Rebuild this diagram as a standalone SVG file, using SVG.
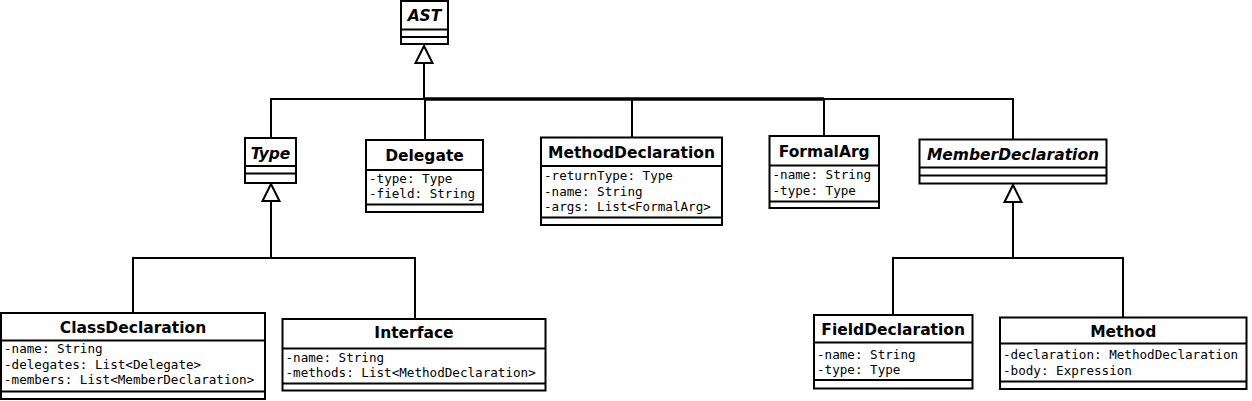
<svg xmlns="http://www.w3.org/2000/svg" width="1252" height="401" viewBox="0 0 1252 401">
<style>
.box{fill:#fff;stroke:#000;stroke-width:2}
.div{stroke:#000;stroke-width:2}
.t{font-family:"DejaVu Sans","Liberation Sans",sans-serif;font-weight:bold;font-size:15.5px;text-anchor:middle;fill:#000}
.ab{font-style:italic}
.a{font-family:"DejaVu Sans Mono","Liberation Mono",monospace;font-size:12.6px;fill:#000}
.ln{fill:none;stroke:#000;stroke-width:2}
.tri{fill:#fff;stroke:#000;stroke-width:2;stroke-linejoin:miter}
</style>
<rect width="1252" height="401" fill="#fff"/>
<g id="connectors">
<polyline class="ln" points="424,63 424,99"/>
<line x1="424" y1="99" x2="824" y2="99" stroke="#000" stroke-width="3.5"/>
<polyline class="ln" points="271,138 271,99 1013,99 1013,139"/>
<line class="ln" x1="425" y1="99" x2="425" y2="140"/>
<line class="ln" x1="632" y1="99" x2="632" y2="137"/>
<line class="ln" x1="824" y1="99" x2="824" y2="136"/>
<polygon class="tri" points="424,46 415.5,63 432.5,63"/>
<polyline class="ln" points="271,201 271,258"/>
<polyline class="ln" points="133,313 133,258 415,258 415,319"/>
<polygon class="tri" points="271,184 262.5,201 279.5,201"/>
<polyline class="ln" points="1013,202 1013,258"/>
<polyline class="ln" points="893,315 893,258 1123,258 1123,317"/>
<polygon class="tri" points="1013,185 1004.5,202 1021.5,202"/>
</g>
<g id="AST">
<rect class="box" x="401" y="1" width="47" height="43"/>
<line class="div" x1="401" y1="29.5" x2="448" y2="29.5"/>
<line class="div" x1="401" y1="37" x2="448" y2="37"/>
<text class="t ab" x="424.5" y="20.5">AST</text>
</g>
<g id="Type">
<rect class="box" x="245" y="138" width="51" height="45"/>
<line class="div" x1="245" y1="166" x2="296" y2="166"/>
<line class="div" x1="245" y1="173.5" x2="296" y2="173.5"/>
<text class="t ab" x="270.5" y="158.5">Type</text>
</g>
<g id="Delegate">
<rect class="box" x="366" y="140" width="117" height="72"/>
<line class="div" x1="366" y1="170" x2="483" y2="170"/>
<line class="div" x1="366" y1="204.5" x2="483" y2="204.5"/>
<text class="t" x="424.5" y="161">Delegate</text>
<text class="a" x="369" y="183">-type: Type</text>
<text class="a" x="369" y="198">-field: String</text>
</g>
<g id="MethodDeclaration">
<rect class="box" x="541" y="137.5" width="181" height="87.5"/>
<line class="div" x1="541" y1="166" x2="722" y2="166"/>
<line class="div" x1="541" y1="217.5" x2="722" y2="217.5"/>
<text class="t" x="631.5" y="157.5">MethodDeclaration</text>
<text class="a" x="544" y="180">-returnType: Type</text>
<text class="a" x="544" y="195.5">-name: String</text>
<text class="a" x="544" y="211">-args: List&lt;FormalArg&gt;</text>
</g>
<g id="FormalArg">
<rect class="box" x="769.5" y="136" width="109.5" height="72"/>
<line class="div" x1="769.5" y1="165.5" x2="879" y2="165.5"/>
<line class="div" x1="769.5" y1="201.5" x2="879" y2="201.5"/>
<text class="t" x="824.2" y="157">FormalArg</text>
<text class="a" x="772.5" y="179">-name: String</text>
<text class="a" x="772.5" y="194.5">-type: Type</text>
</g>
<g id="MemberDeclaration">
<rect class="box" x="919.5" y="139.5" width="187" height="44"/>
<line class="div" x1="919.5" y1="167.5" x2="1106.5" y2="167.5"/>
<line class="div" x1="919.5" y1="175.5" x2="1106.5" y2="175.5"/>
<text class="t ab" x="1013" y="160">MemberDeclaration</text>
</g>
<g id="ClassDeclaration">
<rect class="box" x="1" y="313" width="264" height="86"/>
<line class="div" x1="1" y1="340.5" x2="265" y2="340.5"/>
<line class="div" x1="1" y1="391.5" x2="265" y2="391.5"/>
<text class="t" x="133" y="333">ClassDeclaration</text>
<text class="a" x="4" y="353">-name: String</text>
<text class="a" x="4" y="368.5">-delegates: List&lt;Delegate&gt;</text>
<text class="a" x="4" y="384">-members: List&lt;MemberDeclaration&gt;</text>
</g>
<g id="Interface">
<rect class="box" x="282.5" y="319" width="263" height="71.5"/>
<line class="div" x1="282.5" y1="348.5" x2="545.5" y2="348.5"/>
<line class="div" x1="282.5" y1="383.5" x2="545.5" y2="383.5"/>
<text class="t" x="414" y="337.5">Interface</text>
<text class="a" x="285.5" y="361.5">-name: String</text>
<text class="a" x="285.5" y="377">-methods: List&lt;MethodDeclaration&gt;</text>
</g>
<g id="FieldDeclaration">
<rect class="box" x="814" y="315" width="158.5" height="73.5"/>
<line class="div" x1="814" y1="342.5" x2="972.5" y2="342.5"/>
<line class="div" x1="814" y1="380" x2="972.5" y2="380"/>
<text class="t" x="893.2" y="335">FieldDeclaration</text>
<text class="a" x="817" y="358.5">-name: String</text>
<text class="a" x="817" y="374">-type: Type</text>
</g>
<g id="Method">
<rect class="box" x="1000" y="317.5" width="246.5" height="71.5"/>
<line class="div" x1="1000" y1="343.5" x2="1246.5" y2="343.5"/>
<line class="div" x1="1000" y1="381.5" x2="1246.5" y2="381.5"/>
<text class="t" x="1123.2" y="337">Method</text>
<text class="a" x="1003" y="359">-declaration: MethodDeclaration</text>
<text class="a" x="1003" y="374.5">-body: Expression</text>
</g>
</svg>
